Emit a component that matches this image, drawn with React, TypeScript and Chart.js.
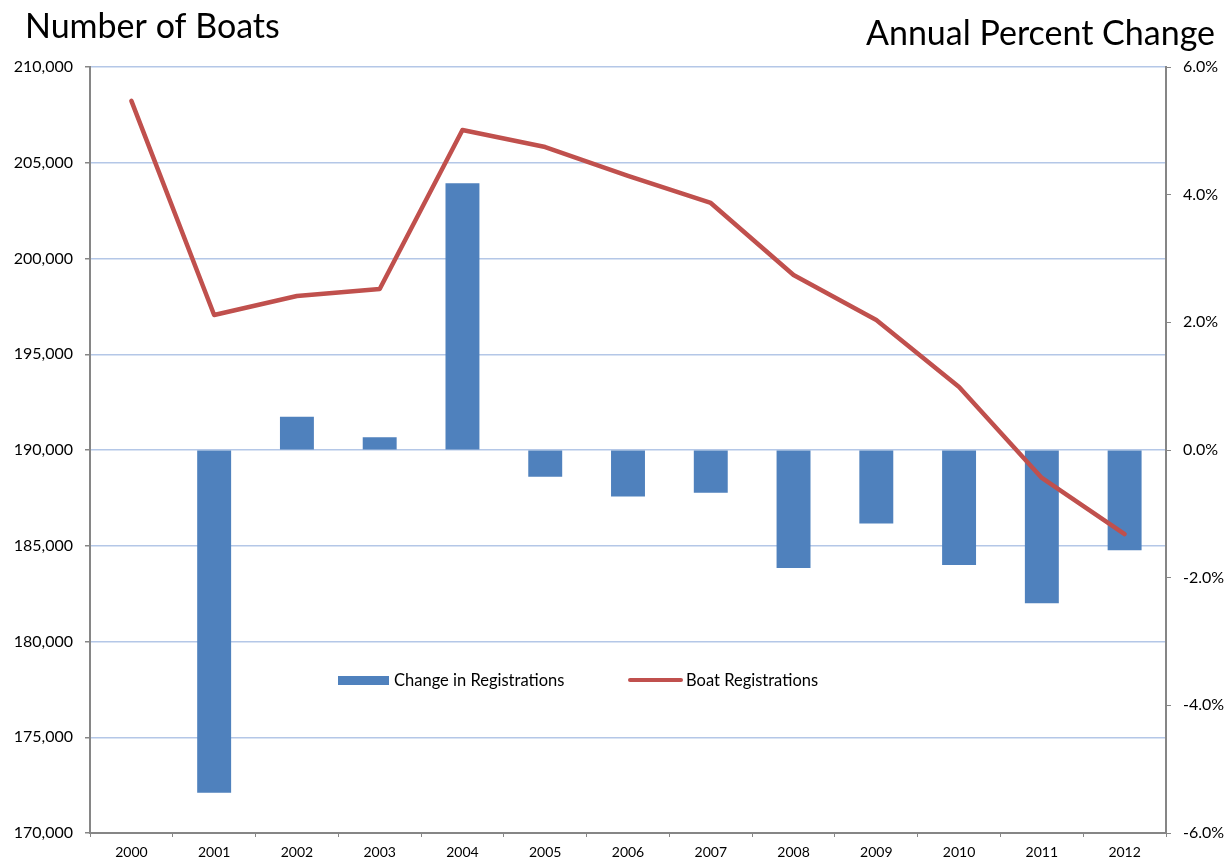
import React, { useEffect, useRef } from "react";
import { Chart, registerables } from "chart.js";

Chart.register(...registerables);

const years = ["2000","2001","2002","2003","2004","2005","2006","2007","2008","2009","2010","2011","2012"];
const registrations = [208230, 197050, 198040, 198410, 206710, 205820, 204310, 202900, 199140, 196790, 193290, 188540, 185610];
const pctChange = [null, -5.37, 0.52, 0.2, 4.18, -0.42, -0.73, -0.67, -1.85, -1.15, -1.8, -2.4, -1.57];

const leftTitle = "Number of Boats";
const rightTitle = "Annual Percent Change";
const barLabel = "Change in Registrations";
const lineLabel = "Boat Registrations";

const BLUE = "#4F81BD";
const RED = "#C0504D";
const GRAY = "#868686";
const GRID = "#B4C7E7";
const FONT = "Lato, 'Open Sans', sans-serif";

const overlay = {
  id: "overlay",
  afterDraw(chart: any) {
    const ctx = chart.ctx;
    ctx.save();
    ctx.fillStyle = "#000";
    ctx.textBaseline = "alphabetic";
    ctx.font = `34px ${FONT}`;
    ctx.textAlign = "left";
    ctx.fillText(leftTitle, 25, 38);
    ctx.textAlign = "right";
    ctx.fillText(rightTitle, 1215, 45);
    // legend
    ctx.font = `16.5px ${FONT}`;
    ctx.textAlign = "left";
    ctx.textBaseline = "middle";
    ctx.fillStyle = BLUE;
    ctx.fillRect(338, 676, 51, 9);
    ctx.fillStyle = "#000";
    ctx.fillText(barLabel, 394, 681);
    ctx.strokeStyle = RED;
    ctx.lineWidth = 4;
    ctx.lineCap = "round";
    ctx.beginPath();
    ctx.moveTo(630, 680);
    ctx.lineTo(681, 680);
    ctx.stroke();
    ctx.fillStyle = "#000";
    ctx.fillText(lineLabel, 686, 681);
    ctx.restore();
  },
};

export default function App() {
  const ref = useRef<HTMLCanvasElement | null>(null);
  useEffect(() => {
    if (!ref.current) return;
    const chart = new Chart(ref.current, {
      type: "bar",
      data: {
        labels: years,
        datasets: [
          {
            type: "line",
            label: lineLabel,
            data: registrations,
            yAxisID: "y",
            borderColor: RED,
            backgroundColor: RED,
            borderWidth: 4.5,
            pointRadius: 0,
            tension: 0,
            borderCapStyle: "round",
            borderJoinStyle: "round",
            order: 0,
          } as any,
          {
            type: "bar",
            label: barLabel,
            data: pctChange,
            yAxisID: "y1",
            backgroundColor: BLUE,
            categoryPercentage: 1,
            barPercentage: 0.41,
            order: 1,
          } as any,
        ],
      },
      options: {
        responsive: false,
        animation: false,
        devicePixelRatio: 1,
        layout: { padding: { top: 67, left: 0, right: 0, bottom: 0 } },
        plugins: { legend: { display: false }, tooltip: { enabled: false }, title: { display: false } },
        scales: {
          x: {
            offset: true,
            grid: { offset: true, drawOnChartArea: false, color: GRAY, tickLength: 4, lineWidth: 1 },
            border: { color: GRAY, width: 2 },
            ticks: { color: "#000", font: { family: FONT, size: 14 }, padding: 7, maxRotation: 0 },
            afterFit: (s: any) => { s.height = 28; },
          },
          y: {
            position: "left",
            min: 170000,
            max: 210000,
            ticks: {
              stepSize: 5000,
              color: "#000",
              font: { family: FONT, size: 16 },
              padding: 12,
              callback: (v: any) => Number(v).toLocaleString("en-US"),
            },
            grid: { color: GRID, tickColor: GRAY, tickLength: 5, lineWidth: 1.5 },
            border: { color: GRAY, width: 2 },
            afterFit: (s: any) => { s.width = 90; },
          },
          y1: {
            position: "right",
            min: -6,
            max: 6,
            ticks: {
              stepSize: 2,
              color: "#000",
              font: { family: FONT, size: 16 },
              padding: 12,
              callback: (v: any) => Number(v).toFixed(1) + "%",
            },
            grid: { drawOnChartArea: false, color: GRAY, tickLength: 5 },
            border: { color: GRAY, width: 2 },
            afterFit: (s: any) => { s.width = 64; },
          },
        },
      },
      plugins: [overlay],
    });
    return () => chart.destroy();
  }, []);
  return (
    <div style={{ position: "fixed", left: 0, top: 0, width: 1230, height: 861, background: "#fff" }}>
      <canvas ref={ref} width={1230} height={861} />
    </div>
  );
}
